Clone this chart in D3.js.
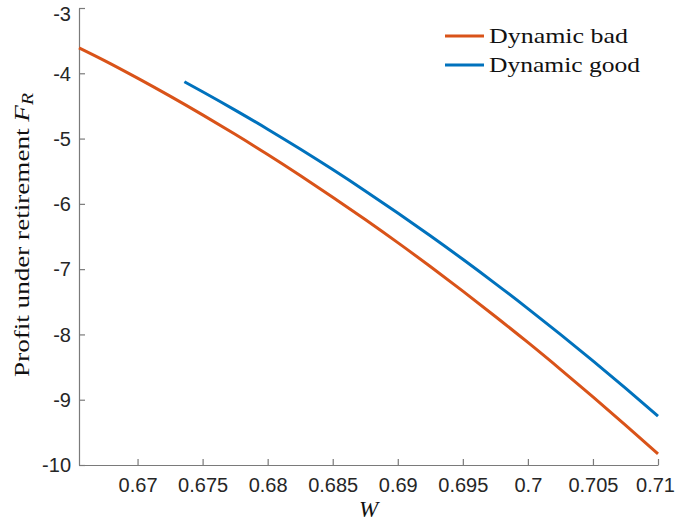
<!DOCTYPE html>
<html>
<head>
<meta charset="utf-8">
<script src="https://cdn.jsdelivr.net/npm/d3@7"></script>
<style>
  html, body { margin: 0; padding: 0; background: #fff; }
  svg { display: block; }
</style>
</head>
<body>
<svg id="chart" width="675" height="523"></svg>
<script>
// ---- data ----
const badW = [0.6655, 0.6675, 0.67, 0.6725, 0.675, 0.6775, 0.68, 0.6825, 0.685, 0.6875, 0.69, 0.6925, 0.695, 0.6975, 0.70, 0.7025, 0.705, 0.7075, 0.71];
const badF = [-3.61, -3.809, -4.074, -4.350, -4.637, -4.935, -5.244, -5.565, -5.897, -6.240, -6.594, -6.960, -7.337, -7.725, -8.123, -8.534, -8.955, -9.388, -9.83];
const goodW = [0.6736, 0.675, 0.6775, 0.68, 0.6825, 0.685, 0.6875, 0.69, 0.6925, 0.695, 0.6975, 0.70, 0.7025, 0.705, 0.7075, 0.71];
const goodF = [-4.13, -4.283, -4.564, -4.856, -5.160, -5.475, -5.802, -6.14, -6.489, -6.849, -7.221, -7.604, -7.999, -8.404, -8.821, -9.25];
const xTicks = [0.67, 0.675, 0.68, 0.685, 0.69, 0.695, 0.70, 0.705, 0.71];
const xTickLabels = ["0.67", "0.675", "0.68", "0.685", "0.69", "0.695", "0.7", "0.705", "0.71"];
const yTicks = [-3, -4, -5, -6, -7, -8, -9, -10];
const yTickLabels = ["-3", "-4", "-5", "-6", "-7", "-8", "-9", "-10"];
const seriesNames = ["Dynamic bad", "Dynamic good"];
const seriesColors = ["#D95319", "#0072BD"];
const yLabelText = "Profit under retirement ";
const xLabelText = "W";

// ---- layout ----
const L = 79, R = 658, T = 8, B = 465;
const svg = d3.select("#chart");
const x = d3.scaleLinear().domain([0.6655, 0.71]).range([L, R]);
const y = d3.scaleLinear().domain([-10, -3]).range([B, T]);

const axisColor = "#7a7a7a";
const labelColor = "#262626";
const tickFont = "'Liberation Sans', Arial, Helvetica, sans-serif";
const serif = "'Liberation Serif', 'Times New Roman', serif";

// x axis
const xAxis = d3.axisBottom(x).tickValues(xTicks)
  .tickFormat((d, i) => xTickLabels[i]).tickSizeInner(-6).tickSizeOuter(0).tickPadding(13);
const gx = svg.append("g").attr("transform", `translate(0,${B})`).call(xAxis);
gx.select(".domain").attr("stroke", axisColor).attr("stroke-width", 1.2);
gx.selectAll(".tick line").attr("stroke", axisColor).attr("stroke-width", 1.2);
gx.selectAll(".tick text").attr("fill", labelColor).attr("font-family", tickFont).attr("font-size", 20)
  .attr("dx", (d, i) => i === xTicks.length - 1 ? -3 : 0);

// y axis
const yAxis = d3.axisLeft(y).tickValues(yTicks)
  .tickFormat((d, i) => yTickLabels[i]).tickSizeInner(-6).tickSizeOuter(0).tickPadding(8);
const gy = svg.append("g").attr("transform", `translate(${L},0)`).call(yAxis);
gy.select(".domain").attr("stroke", axisColor).attr("stroke-width", 1.2);
gy.selectAll(".tick line").attr("stroke", axisColor).attr("stroke-width", 1.2);
gy.selectAll(".tick text").attr("fill", labelColor).attr("font-family", tickFont).attr("font-size", 20)
  .attr("dy", (d, i) => i === 0 ? "0.62em" : "0.34em");

// lines
const line = d3.line().x(d => x(d[0])).y(d => y(d[1])).curve(d3.curveMonotoneX);
const badData = badW.map((w, i) => [w, badF[i]]);
const goodData = goodW.map((w, i) => [w, goodF[i]]);
svg.append("path").datum(badData).attr("d", line)
  .attr("fill", "none").attr("stroke", seriesColors[0]).attr("stroke-width", 3);
svg.append("path").datum(goodData).attr("d", line)
  .attr("fill", "none").attr("stroke", seriesColors[1]).attr("stroke-width", 3);

// helper to fit text length
function fit(sel, len) {
  const n = sel.node();
  const w = n.getComputedTextLength();
  if (w > 0) sel.attr("textLength", len).attr("lengthAdjust", "spacingAndGlyphs");
}

// legend
const legY = [36, 65];
seriesNames.forEach((name, i) => {
  svg.append("line").attr("x1", 445).attr("x2", 484).attr("y1", legY[i]).attr("y2", legY[i])
    .attr("stroke", seriesColors[i]).attr("stroke-width", 3);
  const t = svg.append("text").attr("x", 489).attr("y", legY[i] + 6.5)
    .attr("font-family", serif).attr("font-size", 22).attr("fill", "#111").text(name);
  fit(t, i === 0 ? 139 : 151);
});

// y label
const yl = svg.append("text")
  .attr("transform", `translate(29,235) rotate(-90)`)
  .attr("text-anchor", "middle")
  .attr("font-family", serif).attr("font-size", 22).attr("fill", "#111");
yl.append("tspan").text(yLabelText);
yl.append("tspan").attr("font-style", "italic").text("F");
yl.append("tspan").attr("font-style", "italic").attr("font-size", 16).attr("dy", 4).text("R");
{
  const n = yl.node();
  const w = n.getComputedTextLength();
  const target = 284;
  yl.attr("transform", `translate(29,235) rotate(-90) scale(${target / w},1)`);
}

// x label
svg.append("text").attr("x", (L + R) / 2).attr("y", 517).attr("text-anchor", "middle")
  .attr("font-family", serif).attr("font-style", "italic").attr("font-size", 23).attr("fill", "#111")
  .text(xLabelText);
</script>
</body>
</html>
